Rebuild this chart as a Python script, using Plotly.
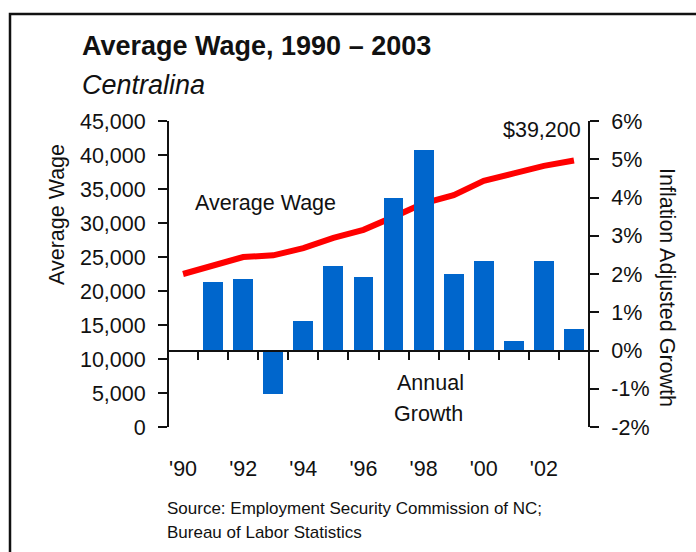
import plotly.graph_objects as go

# Average wage (USD) and inflation-adjusted annual growth (%) for Centralina
years = list(range(1990, 2004))
avg_wage = [22500, 23800, 25000, 25250, 26300, 27800, 29000, 30900,
            32900, 34100, 36200, 37300, 38400, 39200]
growth_pct = [None, 1.80, 1.86, -1.15, 0.78, 2.22, 1.92, 4.00,
              5.23, 2.01, 2.33, 0.26, 2.33, 0.57]

year_ticks = [1990, 1992, 1994, 1996, 1998, 2000, 2002]
year_labels = ["'90", "'92", "'94", "'96", "'98", "'00", "'02"]
wage_ticks = list(range(0, 45001, 5000))
wage_labels = [f"{v:,}" for v in wage_ticks]
growth_ticks = list(range(-2, 7))
growth_labels = [f"{v}%" for v in growth_ticks]

FONT = "Liberation Sans, Arial, sans-serif"
W, H = 696, 552
BLUE = "#0066CC"
RED = "#FF0000"

# plot area in pixels
px_left, px_right = 168, 589
px_top, px_bottom = 121, 427
xd = [px_left / W, px_right / W]
yd = [(H - px_bottom) / H, (H - px_top) / H]
g_range = [-2, 6]
zero_pos = yd[0] + (0 - g_range[0]) / (g_range[1] - g_range[0]) * (yd[1] - yd[0])
x_range = [1989.5, 2003.5]

fig = go.Figure()
fig.add_trace(go.Bar(x=years, y=growth_pct, yaxis="y2", width=0.66,
                     marker=dict(color=BLUE, line=dict(width=0)),
                     hoverinfo="x+y"))
fig.add_trace(go.Scatter(x=years, y=avg_wage, mode="lines",
                         line=dict(color=RED, width=6),
                         hoverinfo="x+y"))
# invisible trace so the year-label axis is drawn
fig.add_trace(go.Scatter(x=[years[0]], y=[None], xaxis="x2", yaxis="y",
                         showlegend=False, hoverinfo="skip"))

axis_font = dict(family=FONT, size=21.5, color="#111")

fig.update_layout(
    template="none",
    width=W, height=H,
    margin=dict(l=0, r=0, t=0, b=0, pad=0),
    paper_bgcolor="white", plot_bgcolor="rgba(0,0,0,0)",
    showlegend=False,
    bargap=0,
    font=axis_font,
    xaxis=dict(domain=xd, range=x_range, anchor="free", position=zero_pos,
               automargin=False,
               showline=True, linecolor="#111", linewidth=2,
               tickmode="array", tickvals=[y + 0.5 for y in years[:-1]],
               ticks="outside", ticklen=8, tickwidth=2, tickcolor="#111",
               showticklabels=False, showgrid=False, zeroline=False,
               fixedrange=True),
    xaxis2=dict(domain=xd, range=x_range, overlaying="x", anchor="free",
                position=(H - 453) / H, matches="x", automargin=False,
                tickmode="array", tickvals=year_ticks, ticktext=year_labels,
                ticks="", showline=False, showgrid=False, zeroline=False,
                tickfont=axis_font),
    yaxis=dict(domain=yd, range=[0, 45000], anchor="free", position=xd[0],
               automargin=False, ticklabelstandoff=8,
               tickmode="array", tickvals=wage_ticks, ticktext=wage_labels,
               ticks="outside", ticklen=9, tickwidth=2, tickcolor="#111",
               showline=True, linecolor="#111", linewidth=2,
               showgrid=False, zeroline=False, tickfont=axis_font),
    yaxis2=dict(domain=yd, range=g_range, overlaying="y", side="right",
                anchor="free", position=xd[1], automargin=False,
                ticklabelstandoff=8,
                tickmode="array", tickvals=growth_ticks, ticktext=growth_labels,
                ticks="outside", ticklen=9, tickwidth=2, tickcolor="#111",
                showline=True, linecolor="#111", linewidth=2,
                showgrid=False, zeroline=False, tickfont=axis_font),
)

anns = [
    dict(text="<b>Average Wage, 1990 – 2003</b>", x=80 / W, y=(H - 46) / H,
         xanchor="left", yanchor="middle",
         font=dict(family=FONT, size=27, color="#111")),
    dict(text="<i>Centralina</i>", x=80 / W, y=(H - 85) / H,
         xanchor="left", yanchor="middle",
         font=dict(family=FONT, size=27, color="#111")),
    dict(text="Average Wage", x=57 / W, y=(H - 215) / H, textangle=-90,
         xanchor="center", yanchor="middle", font=axis_font),
    dict(text="Inflation Adjusted Growth", x=667 / W, y=(H - 287) / H,
         textangle=90, xanchor="center", yanchor="middle", font=axis_font),
    dict(text="Average Wage", x=265 / W, y=(H - 203) / H,
         xanchor="center", yanchor="middle", font=axis_font),
    dict(text=f"${avg_wage[-1]:,}", x=583 / W, y=(H - 130) / H,
         xanchor="right", yanchor="middle", font=axis_font),
    dict(text="Annual", x=430 / W, y=(H - 383) / H,
         xanchor="center", yanchor="middle", font=axis_font),
    dict(text="Growth", x=428 / W, y=(H - 414) / H,
         xanchor="center", yanchor="middle", font=axis_font),
    dict(text="Source: Employment Security Commission of NC;", x=165 / W,
         y=(H - 508) / H, xanchor="left", yanchor="middle",
         font=dict(family=FONT, size=17, color="#111")),
    dict(text="Bureau of Labor Statistics", x=165 / W,
         y=(H - 532) / H, xanchor="left", yanchor="middle",
         font=dict(family=FONT, size=17, color="#111")),
]
for a in anns:
    a.update(xref="paper", yref="paper", showarrow=False)
fig.update_layout(annotations=anns)

# outer frame, open to the right and bottom edges
fig.add_shape(type="rect", xref="paper", yref="paper",
              x0=10 / W, x1=1.05, y0=-0.05, y1=(H - 14) / H,
              line=dict(color="#111", width=2.5), layer="above")

fig.write_html("out.html")
